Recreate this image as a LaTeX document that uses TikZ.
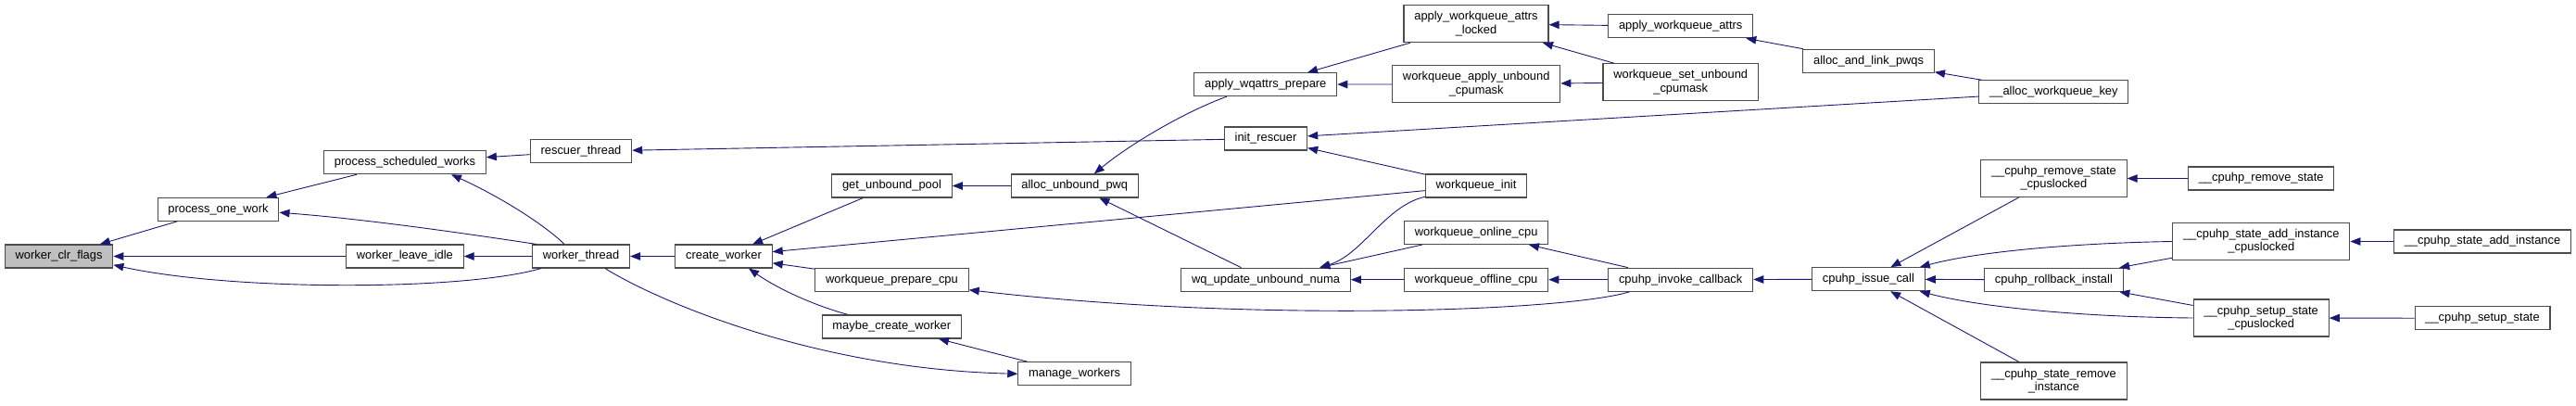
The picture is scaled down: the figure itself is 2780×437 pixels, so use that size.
\documentclass[tikz,border=0pt]{standalone}
\usepackage{fontspec}
\setmainfont{Liberation Sans}
\usetikzlibrary{arrows.meta}
\definecolor{edgeblue}{RGB}{25,25,112}
\begin{document}
\begin{tikzpicture}[
  x=1pt, y=-1pt,
  every node/.style={draw=black!70, line width=1.1pt, fill=white, align=center, inner xsep=11.3pt, inner ysep=2pt, minimum height=25pt, font=\fontsize{12.9}{14.3}\selectfont},
  tall/.style={minimum height=40pt},
  here/.style={fill=black!25},
  arrow/.style={-{Triangle[length=11pt,width=8.5pt]}, edgeblue, line width=0.9pt}
]
\useasboundingbox (0,0) rectangle (2780,437);
\node[here] (clr) at (63.6,276.5) {worker\_clr\_flags};
\node (pow) at (235.5,225.8) {process\_one\_work};
\node (psw) at (437,175.2) {process\_scheduled\_works};
\node (rth) at (627,163.2) {rescuer\_thread};
\node (wli) at (436.9,276.5) {worker\_leave\_idle};
\node (wth) at (627,276.5) {worker\_thread};
\node (crw) at (781,276.5) {create\_worker};
\node (gup) at (962.5,200.5) {get\_unbound\_pool};
\node (aup) at (1159.8,200.5) {alloc\_unbound\_pwq};
\node (wpc) at (962.5,301.7) {workqueue\_prepare\_cpu};
\node (mcw) at (962.3,352.5) {maybe\_create\_worker};
\node (mgw) at (1159.6,403.3) {manage\_workers};
\node (awp) at (1365.8,91.2) {apply\_wqattrs\_prepare};
\node (irs) at (1366,149.5) {init\_rescuer};
\node (wuu) at (1366,301.7) {wq\_update\_unbound\_numa};
\node[tall] (awl) at (1593,25.7) {apply\_workqueue\_attrs\\\_locked};
\node[tall] (wau) at (1593.2,90.8) {workqueue\_apply\_unbound\\\_cpumask};
\node (wqi) at (1593,200.5) {workqueue\_init};
\node (woc) at (1593.2,251) {workqueue\_online\_cpu};
\node (wfc) at (1593.2,301.7) {workqueue\_offline\_cpu};
\node (awa) at (1813.7,28.3) {apply\_workqueue\_attrs};
\node[tall] (wsu) at (1813.7,88.7) {workqueue\_set\_unbound\\\_cpumask};
\node (cic) at (1813.7,301.7) {cpuhp\_invoke\_callback};
\node (alp) at (2016.6,65.8) {alloc\_and\_link\_pwqs};
\node (cis) at (2016.4,301.2) {cpuhp\_issue\_call};
\node (awk) at (2216.4,99.3) {\_\_alloc\_workqueue\_key};
\node[tall] (rsc) at (2216.4,192.5) {\_\_cpuhp\_remove\_state\\\_cpuslocked};
\node (cri) at (2216.4,301.8) {cpuhp\_rollback\_install};
\node[tall] (rmi) at (2216.4,411) {\_\_cpuhp\_state\_remove\\\_instance};
\node (rms) at (2440.2,192.5) {\_\_cpuhp\_remove\_state};
\node[tall] (sac) at (2440.3,260.5) {\_\_cpuhp\_state\_add\_instance\\\_cpuslocked};
\node[tall] (ssc) at (2440.2,343) {\_\_cpuhp\_setup\_state\\\_cpuslocked};
\node (sai) at (2679,260.5) {\_\_cpuhp\_state\_add\_instance};
\node (sss) at (2679,343.3) {\_\_cpuhp\_setup\_state};
\draw[arrow] (pow) -- (clr);
\draw[arrow] (wli) -- (clr);
\draw[arrow] ([xshift=10pt]wth.south west) .. controls (500,314) and (250,314) .. (clr.-9);
\draw[arrow] (psw) -- (pow);
\draw[arrow] ([xshift=5pt]wth.north west) .. controls (490,250) and (390,236) .. (pow.-3);
\draw[arrow] (rth) -- (psw);
\draw[arrow] ([xshift=-18pt]wth.north) .. controls (585,240) and (535,210) .. ([xshift=50pt]psw.south);
\draw[arrow] (wth) -- (wli);
\draw[arrow] (crw) -- (wth);
\draw[arrow] ([xshift=26pt]wth.south) .. controls (710,325) and (880,398) .. (mgw.west);
\draw[arrow] (irs) -- (rth);
\draw[arrow] (gup) -- (crw);
\draw[arrow] (wqi) -- (crw);
\draw[arrow] (wpc) -- (crw);
\draw[arrow] ([xshift=-47pt]mcw.north) .. controls (880,330) and (840,312) .. ([xshift=27pt]crw.south);
\draw[arrow] (mgw) -- (mcw);
\draw[arrow] (aup) -- (gup);
\draw[arrow] ([xshift=-42pt]awp.south) .. controls (1280,120) and (1220,155) .. ([xshift=21pt]aup.north);
\draw[arrow] (wuu) -- (aup);
\draw[arrow] ([xshift=-55pt]cic.south) .. controls (1690,336) and (1350,348) .. ([yshift=2pt]wpc.south east);
\draw[arrow] (awl) -- (awp);
\draw[arrow] (wau) -- (awp);
\draw[arrow] (wqi) -- (irs);
\draw[arrow] (awk) -- (irs);
\draw[arrow] (wqi.-168) .. controls (1495,222) and (1470,275) .. ([xshift=58pt]wuu.north);
\draw[arrow] (woc) -- (wuu);
\draw[arrow] (wfc) -- (wuu);
\draw[arrow] (awa) -- (awl);
\draw[arrow] (wsu) -- (awl);
\draw[arrow] (wsu) -- (wau);
\draw[arrow] (cic) -- (woc);
\draw[arrow] (cic) -- (wfc);
\draw[arrow] (alp) -- (awa);
\draw[arrow] (awk) -- (alp);
\draw[arrow] (cis) -- (cic);
\draw[arrow] (rsc) -- (cis);
\draw[arrow] (sac.west) .. controls (2250,262) and (2140,270) .. ([xshift=-6pt]cis.north east);
\draw[arrow] (cri) -- (cis);
\draw[arrow] (ssc.west) .. controls (2250,342) and (2140,332) .. ([xshift=-6pt]cis.south east);
\draw[arrow] (rmi) -- (cis);
\draw[arrow] (sac) -- (cri);
\draw[arrow] (ssc) -- (cri);
\draw[arrow] (rms) -- (rsc);
\draw[arrow] (sai) -- (sac);
\draw[arrow] (sss) -- (ssc);
\end{tikzpicture}
\end{document}
